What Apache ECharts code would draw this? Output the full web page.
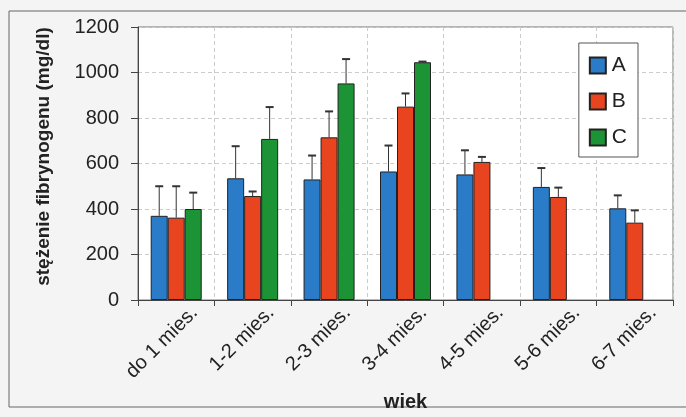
<!DOCTYPE html>
<html><head><meta charset="utf-8">
<script src="https://cdn.jsdelivr.net/npm/echarts@6/dist/echarts.min.js"></script>
<style>html,body{margin:0;padding:0;background:#f4f4f4}#c{width:686px;height:417px}</style>
</head><body><div id="c"></div>
<script>
const categories = ['do 1 mies.', '1-2 mies.', '2-3 mies.', '3-4 mies.', '4-5 mies.', '5-6 mies.', '6-7 mies.'];
const seriesNames = ['A', 'B', 'C'];
const valuesA = [370, 535, 530, 565, 552, 497, 403];
const valuesB = [362, 457, 715, 850, 607, 453, 340];
const valuesC = [400, 708, 952, 1045, null, null, null];
const errTopA = [500, 676, 635, 679, 658, 580, 460];
const errTopB = [500, 477, 829, 908, 629, 494, 394];
const errTopC = [472, 848, 1059, 1048, null, null, null];
const yTicks = [0, 200, 400, 600, 800, 1000, 1200];
const colors = ['#2a7bc8', '#e8441f', '#1c9435'];

const chart = echarts.init(document.getElementById('c'));
const BW = 17;
function errSeries(vals, tops, offset) {
  const data = vals.map((v, i) => v == null ? null : [i, v, tops[i]]);
  return {
    type: 'custom', z: 5, silent: true,
    data: data.filter(d => d),
    renderItem: function (params, api) {
      const i = api.value(0);
      const p0 = api.coord([i, api.value(1)]);
      const p1 = api.coord([i, api.value(2)]);
      const x = p0[0] + offset;
      return {
        type: 'group', children: [
          {type: 'line', shape: {x1: x, y1: p0[1], x2: x, y2: p1[1]}, style: {stroke: '#333', lineWidth: 1}},
          {type: 'line', shape: {x1: x - 4, y1: p1[1], x2: x + 4, y2: p1[1]}, style: {stroke: '#333', lineWidth: 2}}
        ]
      };
    }
  };
}
const barCommon = {type: 'bar', barWidth: BW, barGap: '0%', itemStyle: {borderColor: '#222', borderWidth: 1}};
chart.setOption({
  animation: false,
  backgroundColor: '#f4f4f4',
  textStyle: {fontFamily: 'Liberation Sans, Arial, sans-serif'},
  graphic: [
    {type: 'rect', shape: {x: 9, y: 11, width: 700, height: 396}, style: {fill: 'none', stroke: '#666', lineWidth: 1}, z: -1},
    {type: 'rect', shape: {x: 138, y: 27, width: 535, height: 274}, style: {fill: '#fff', stroke: 'none'}, z: -1}
  ],
  grid: {left: 138, right: 13, top: 27, bottom: 116, show: true, borderColor: '#777', borderWidth: 1},
  legend: {
    data: seriesNames, orient: 'vertical', right: 48, top: 43,
    itemWidth: 16, itemHeight: 16, itemGap: 15, padding: [12, 11, 9, 10],
    borderColor: '#555', borderWidth: 1, backgroundColor: '#fff',
    textStyle: {fontSize: 21, color: '#222', padding: [0, 0, 0, 1]},
    icon: 'rect'
  },
  xAxis: {
    type: 'category', data: categories,
    name: 'wiek', nameLocation: 'middle', nameGap: 92,
    nameTextStyle: {fontSize: 20, fontWeight: 'bold', color: '#222'},
    axisLine: {lineStyle: {color: '#444'}},
    axisTick: {show: true, length: 6, lineStyle: {color: '#444'}},
    axisLabel: {rotate: 45, fontSize: 20, color: '#222', margin: 14, verticalAlign: 'top', padding: [0, -16, 0, 0]},
    splitLine: {show: true, lineStyle: {color: '#ccc', type: [4, 3]}}
  },
  yAxis: {
    type: 'value', min: 0, max: 1200, interval: 200,
    name: 'stężenie fibrynogenu (mg/dl)', nameLocation: 'middle', nameGap: 85,
    nameTextStyle: {fontSize: 19, fontWeight: 'bold', color: '#222', padding: [0, 0, 0, 14]},
    axisLine: {show: true, lineStyle: {color: '#444'}},
    axisTick: {show: true, length: 7, lineStyle: {color: '#444'}},
    axisLabel: {fontSize: 20, color: '#222', margin: 19, formatter: v => yTicks.includes(v) ? String(v) : ''},
    splitLine: {show: true, lineStyle: {color: '#ccc', type: [4, 3]}}
  },
  series: [
    Object.assign({}, barCommon, {name: 'A', data: valuesA, itemStyle: Object.assign({}, barCommon.itemStyle, {color: colors[0]})}),
    Object.assign({}, barCommon, {name: 'B', data: valuesB, itemStyle: Object.assign({}, barCommon.itemStyle, {color: colors[1]})}),
    Object.assign({}, barCommon, {name: 'C', data: valuesC, itemStyle: Object.assign({}, barCommon.itemStyle, {color: colors[2]})}),
    errSeries(valuesA, errTopA, -BW),
    errSeries(valuesB, errTopB, 0),
    errSeries(valuesC, errTopC, BW)
  ]
});
</script></body></html>
